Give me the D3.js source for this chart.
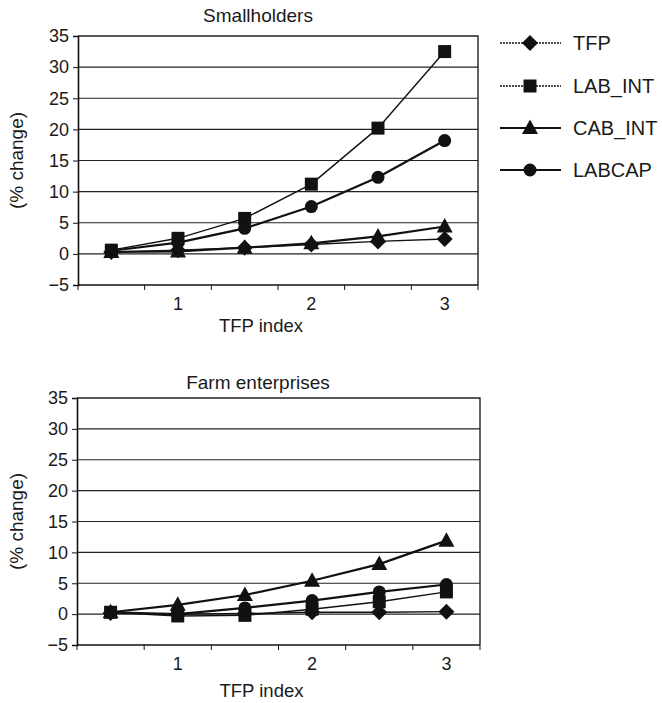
<!DOCTYPE html>
<html>
<head>
<meta charset="utf-8">
<script src="https://cdn.jsdelivr.net/npm/d3@7"></script>
<style>
  html, body { margin: 0; padding: 0; background: #fff; }
  svg { display: block; }
  text { font-family: "Liberation Sans", Arial, sans-serif; fill: #1a1a1a; }
</style>
</head>
<body>
<script>
// ---------- data ----------
const categories = ["0.5", "1", "1.5", "2", "2.5", "3"];
const xTickLabels = ["1", "2", "3"];
const yTickValues = [-5, 0, 5, 10, 15, 20, 25, 30, 35];
const seriesNames = ["TFP", "LAB_INT", "CAB_INT", "LABCAP"];
const panelTitles = ["Smallholders", "Farm enterprises"];
const xAxisTitle = "TFP index";
const yAxisTitle = "(% change)";

// Smallholders
const smallTFP     = [0.3, 0.6, 1.0, 1.5, 2.0, 2.4];
const smallLABINT  = [0.6, 2.5, 5.7, 11.2, 20.2, 32.5];
const smallCABINT  = [0.3, 0.4, 1.0, 1.7, 2.8, 4.4];
const smallLABCAP  = [0.5, 1.8, 4.1, 7.6, 12.3, 18.2];

// Farm enterprises
const farmTFP      = [0.2, 0.0, 0.1, 0.3, 0.3, 0.4];
const farmLABINT   = [0.3, -0.3, -0.2, 0.8, 2.0, 3.6];
const farmCABINT   = [0.3, 1.5, 3.1, 5.4, 8.1, 11.9];
const farmLABCAP   = [0.3, 0.0, 1.0, 2.2, 3.6, 4.8];

const panels = [
  { title: panelTitles[0], series: [smallTFP, smallLABINT, smallCABINT, smallLABCAP] },
  { title: panelTitles[1], series: [farmTFP, farmLABINT, farmCABINT, farmLABCAP] }
];

// ---------- layout ----------
const W = 662, H = 703;
const boxes = [
  { x0: 78, x1: 478, y0: 36, y1: 285, titleY: 22, xTitleY: 332, yTitleX: 23 },
  { x0: 77, x1: 480, y0: 398, y1: 645, titleY: 389, xTitleY: 697, yTitleX: 23 }
];
const styles = [
  { marker: "diamond", width: 1.4 },
  { marker: "square", width: 1.4 },
  { marker: "triangle", width: 2.2 },
  { marker: "circle", width: 2.2 }
];
const markerPath = {
  diamond: "M0,-8L8,0L0,8L-8,0Z",
  square: "M-6.5,-6.5H6.5V6.5H-6.5Z",
  triangle: "M0,-8.5L8,6L-8,6Z",
  circle: "M6.5,0A6.5,6.5 0 1,1 -6.5,0A6.5,6.5 0 1,1 6.5,0Z"
};

const svg = d3.select("body").append("svg").attr("width", W).attr("height", H);

panels.forEach((p, pi) => {
  const b = boxes[pi];
  const x = d3.scaleBand().domain(categories).range([b.x0, b.x1]);
  const y = d3.scaleLinear().domain([-5, 35]).range([b.y1, b.y0]);
  const g = svg.append("g");

  // gridlines
  g.append("g").selectAll("line").data(yTickValues.filter(v => v > -5 && v < 35))
    .join("line")
    .attr("x1", b.x0).attr("x2", b.x1)
    .attr("y1", d => y(d)).attr("y2", d => y(d))
    .attr("stroke", "#222").attr("stroke-width", 1.1);

  // plot border (top & right)
  g.append("path")
    .attr("d", `M${b.x0},${b.y0}H${b.x1}V${b.y1}`)
    .attr("fill", "none").attr("stroke", "#222").attr("stroke-width", 1.4);

  // y axis
  const yAxis = d3.axisLeft(y).tickValues(yTickValues).tickSize(5).tickPadding(4)
    .tickFormat(d => d < 0 ? "\u2212" + Math.abs(d) : String(d));
  const ya = g.append("g").attr("transform", `translate(${b.x0},0)`).call(yAxis);
  ya.select(".domain").attr("stroke", "#111").attr("stroke-width", 1.6);
  ya.selectAll(".tick line").attr("stroke", "#111");
  ya.selectAll("text").style("font-size", "18px").attr("fill", "#1a1a1a");

  // x axis: ticks at category boundaries, labels at integer categories
  const boundaries = categories.map(c => x(c)).concat([b.x1]);
  g.append("line").attr("x1", b.x0).attr("x2", b.x1).attr("y1", b.y1).attr("y2", b.y1)
    .attr("stroke", "#111").attr("stroke-width", 1.6);
  g.append("g").selectAll("line").data(boundaries).join("line")
    .attr("x1", d => d).attr("x2", d => d)
    .attr("y1", b.y1).attr("y2", b.y1 + 5)
    .attr("stroke", "#111").attr("stroke-width", 1);
  g.append("g").selectAll("text").data(xTickLabels).join("text")
    .attr("x", d => x(d) + x.bandwidth() / 2)
    .attr("y", b.y1 + 25)
    .attr("text-anchor", "middle")
    .style("font-size", "18px")
    .text(d => d);

  // titles
  g.append("text").attr("x", 258).attr("y", b.titleY).attr("text-anchor", "middle")
    .style("font-size", "19px").text(p.title);
  g.append("text").attr("x", (b.x0 + b.x1) / 2 - 17).attr("y", b.xTitleY).attr("text-anchor", "middle")
    .style("font-size", "18.5px").text(xAxisTitle);
  g.append("text")
    .attr("transform", `translate(${b.yTitleX},${(b.y0 + b.y1) / 2}) rotate(-90)`)
    .attr("text-anchor", "middle")
    .style("font-size", "19px").text(yAxisTitle);

  // series lines & markers
  const line = d3.line().x((d, i) => x(categories[i]) + x.bandwidth() / 2).y(d => y(d));
  p.series.forEach((vals, si) => {
    const st = styles[si];
    g.append("path").datum(vals).attr("d", line)
      .attr("fill", "none").attr("stroke", "#111").attr("stroke-width", st.width);
  });
  p.series.forEach((vals, si) => {
    const st = styles[si];
    g.append("g").selectAll("path").data(vals).join("path")
      .attr("transform", (d, i) => `translate(${x(categories[i]) + x.bandwidth() / 2},${y(d)})`)
      .attr("d", markerPath[st.marker])
      .attr("fill", "#111");
  });
});

// legend (top panel)
const legend = svg.append("g");
const legendY = [43, 86, 128, 170];
seriesNames.forEach((name, i) => {
  const st = styles[i];
  const gy = legendY[i];
  legend.append("line").attr("x1", 500).attr("x2", 561).attr("y1", gy).attr("y2", gy)
    .attr("stroke", "#111").attr("stroke-width", st.width)
    .attr("stroke-dasharray", i < 2 ? "2,1" : null);
  legend.append("path").attr("transform", `translate(530,${gy})`)
    .attr("d", markerPath[st.marker]).attr("fill", "#111");
  legend.append("text").attr("x", 573).attr("y", gy + 7).style("font-size", "20px").text(name);
});
</script>
</body>
</html>
